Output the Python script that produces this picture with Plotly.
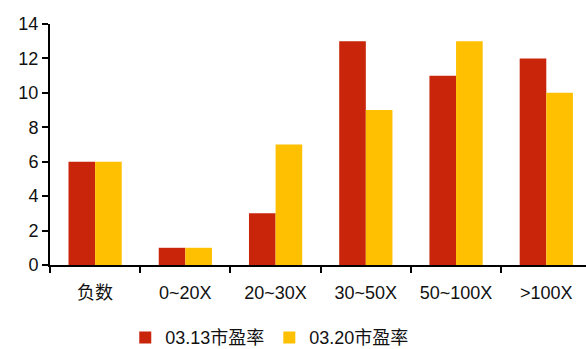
import plotly.graph_objects as go

categories = ["负数", "0~20X", "20~30X", "30~50X", "50~100X", ">100X"]
pe_0313 = [6, 1, 3, 13, 11, 12]
pe_0320 = [6, 1, 7, 9, 13, 10]
series_names = ["03.13市盈率", "03.20市盈率"]
y_ticks = [0, 2, 4, 6, 8, 10, 12, 14]

font_family = "Liberation Sans, Arial, Noto Sans CJK SC, sans-serif"

fig = go.Figure()
fig.add_trace(go.Bar(x=categories, y=pe_0313, name=series_names[0],
                     marker=dict(color="#C8250A", line=dict(width=0))))
fig.add_trace(go.Bar(x=categories, y=pe_0320, name=series_names[1],
                     marker=dict(color="#FEC000", line=dict(width=0))))

fig.update_layout(
    width=586, height=349,
    margin=dict(l=50, r=0, t=24, b=84, autoexpand=False),
    paper_bgcolor="white", plot_bgcolor="white",
    barmode="group", bargap=0.41, bargroupgap=0,
    font=dict(family=font_family, size=18, color="#111111"),
    showlegend=True,
    legend=dict(orientation="h", x=0.41, xanchor="center", y=-0.225, yanchor="top",
                font=dict(size=18), itemwidth=30, traceorder="normal",
                tracegroupgap=0),
)
fig.update_xaxes(
    type="category", range=[-0.5, 5.44],
    showline=True, linecolor="black", linewidth=2,
    ticks="outside", tickson="boundaries", ticklen=6, tickwidth=2, tickcolor="black",
    ticklabelstandoff=10,
    showgrid=False, zeroline=False,
)
fig.update_yaxes(
    range=[0, 14], tickvals=y_ticks,
    showline=True, linecolor="black", linewidth=2,
    ticks="outside", ticklen=6, tickwidth=2, tickcolor="black",
    showgrid=False, zeroline=False,
)

fig.write_html("out.html")
